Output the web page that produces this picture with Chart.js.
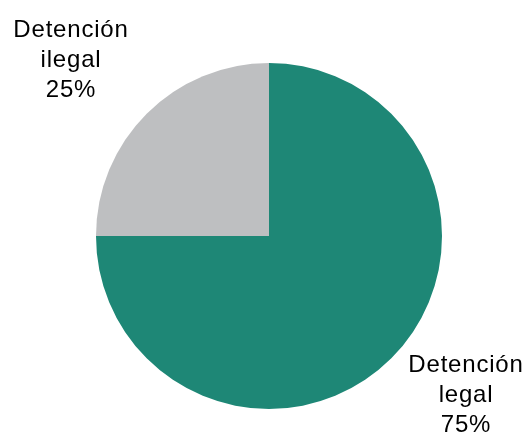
<!DOCTYPE html>
<html>
<head>
<meta charset="utf-8">
<script src="https://cdn.jsdelivr.net/npm/chart.js@4/dist/chart.umd.min.js"></script>
<style>
  html, body { margin: 0; padding: 0; background: #ffffff; }
  #wrap { width: 530px; height: 434px; }
</style>
</head>
<body>
<div id="wrap"><canvas id="pie"></canvas></div>
<script>
// data
const categories = ['Detención legal', 'Detención ilegal'];
const shares = [75, 25];
const sliceColors = ['#1e8776', '#bebfc1'];

// where each label block sits (centre x, first baseline y)
const labelSpots = [
  { x: 466, y: 372 },
  { x: 71, y: 37 }
];

const sliceLabels = {
  id: 'sliceLabels',
  afterDraw(chart) {
    const ctx = chart.ctx;
    ctx.save();
    ctx.font = '24px "Liberation Sans", Arial, sans-serif';
    ctx.letterSpacing = '0.8px';
    ctx.fillStyle = '#000000';
    ctx.textAlign = 'center';
    ctx.textBaseline = 'alphabetic';
    chart.data.labels.forEach((name, i) => {
      const words = name.split(' ');
      const lines = [words[0], words.slice(1).join(' '), chart.data.datasets[0].data[i] + '%'];
      const spot = labelSpots[i];
      lines.forEach((ln, j) => ctx.fillText(ln, spot.x, spot.y + j * 30));
    });
    ctx.restore();
  }
};

new Chart(document.getElementById('pie').getContext('2d'), {
  type: 'pie',
  data: {
    labels: categories,
    datasets: [{
      data: shares,
      backgroundColor: sliceColors,
      borderWidth: 0
    }]
  },
  options: {
    responsive: true,
    maintainAspectRatio: false,
    animation: false,
    layout: { padding: { top: 63, bottom: 25, left: 96, right: 88 } },
    plugins: {
      legend: { display: false },
      tooltip: { enabled: false }
    }
  },
  plugins: [sliceLabels]
});
</script>
</body>
</html>
